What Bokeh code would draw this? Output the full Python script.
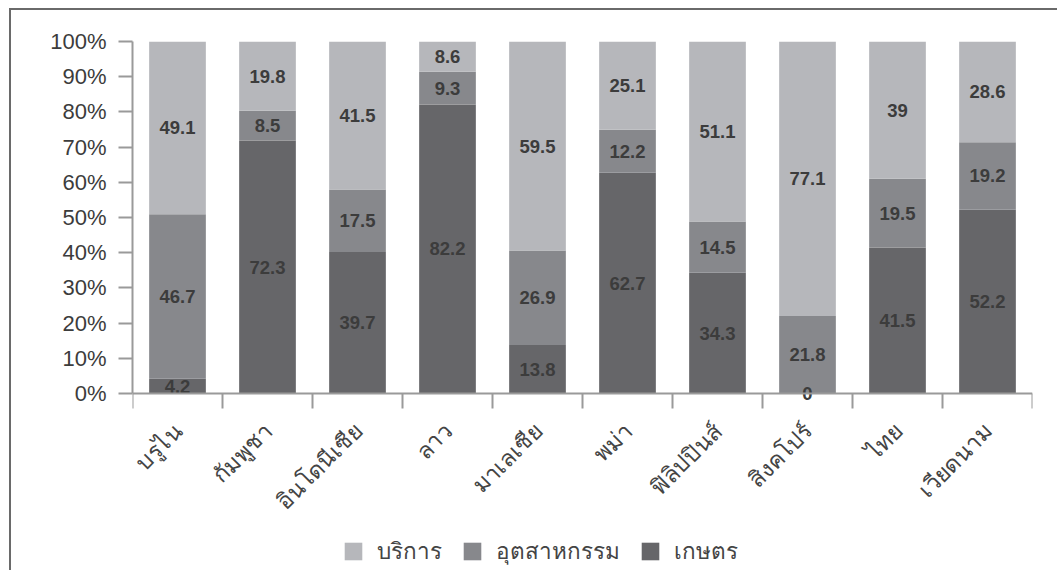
from bokeh.plotting import figure
from bokeh.models import ColumnDataSource, FixedTicker, Legend, LegendItem, Range1d, PrintfTickFormatter, LinearAxis
from bokeh.core.properties import value
from bokeh.embed import file_html
from bokeh.resources import INLINE

countries = ["บรูไน", "กัมพูชา", "อินโดนีเซีย", "ลาว", "มาเลเซีย", "พม่า", "ฟิลิปปินส์", "สิงคโปร์", "ไทย", "เวียดนาม"]
agriculture = [4.2, 72.3, 39.7, 82.2, 13.8, 62.7, 34.3, 0, 41.5, 52.2]
industry = [46.7, 8.5, 17.5, 9.3, 26.9, 12.2, 14.5, 21.8, 19.5, 19.2]
services = [49.1, 19.8, 41.5, 8.6, 59.5, 25.1, 51.1, 77.1, 39, 28.6]
series_names = ["บริการ", "อุตสาหกรรม", "เกษตร"]
y_ticks = [0, 10, 20, 30, 40, 50, 60, 70, 80, 90, 100]

C_LIGHT = "#b6b7bb"
C_MID = "#87888c"
C_DARK = "#666669"

n = len(countries)
xs = [i + 0.5 for i in range(n)]
tot = [a + b + c for a, b, c in zip(agriculture, industry, services)]
pa = [a / t * 100 for a, t in zip(agriculture, tot)]
pi_ = [b / t * 100 for b, t in zip(industry, tot)]
ps = [c / t * 100 for c, t in zip(services, tot)]

src = ColumnDataSource(dict(x=xs, agri=pa, ind=pi_, serv=ps))

# layout (screen pixels)
W, H = 1048, 562
BL, BT, BR = 121, 31, 27
PLOT_H = 352            # pixel height of the 0..100 band
frame_h = H - BT
y_lo = 100 - 100 * frame_h / PLOT_H

p = figure(width=W, height=H, output_backend="svg", toolbar_location=None,
           x_range=Range1d(0, n), y_range=Range1d(y_lo, 100),
           x_axis_type=None, y_axis_type=None,
           min_border_left=BL, min_border_top=BT, min_border_right=BR, min_border_bottom=0)
p.margin = (8, 0, 0, 9)
p.styles = {"border-left": "2px solid #6a6a6a", "border-top": "2px solid #6a6a6a"}
p.outline_line_color = None
p.background_fill_color = "white"

rs = p.vbar_stack(["agri", "ind", "serv"], x="x", width=0.63, source=src,
                  color=[C_DARK, C_MID, C_LIGHT], line_color=None)

# labels at segment centers
lx, ly, lt = [], [], []
for i in range(n):
    segs = [(pa[i], agriculture[i]), (pi_[i], industry[i]), (ps[i], services[i])]
    base = 0
    for h, v in segs:
        lx.append(xs[i])
        ly.append(base + h / 2)
        lt.append(("%g" % v))
        base += h
p.text(x=lx, y=ly, text=lt, text_align="center", text_baseline="middle",
       text_font=value("Liberation Sans"), text_font_style="bold",
       text_font_size="18.5px", text_color="#3c3c3c")

# y axis
yax = LinearAxis(ticker=FixedTicker(ticks=y_ticks), formatter=PrintfTickFormatter(format="%d%%"),
                 bounds=(0, 100))
yax.major_label_text_font = "Liberation Sans"
yax.major_label_text_font_size = "22px"
yax.major_label_text_color = "#3c3c3c"
yax.major_tick_out = 14
yax.major_tick_in = 0
yax.minor_tick_out = 0
yax.minor_tick_in = 0
yax.major_label_standoff = 12
yax.axis_line_color = "#9a9a9a"
yax.axis_line_width = 2
yax.major_tick_line_color = "#9a9a9a"
yax.major_tick_line_width = 2
p.add_layout(yax, "left")

# x axis, pinned at y = 0
xax = LinearAxis(ticker=FixedTicker(ticks=xs, minor_ticks=list(range(n + 1))),
                 fixed_location=0, bounds=(0, n))
xax.major_label_overrides = {x: c for x, c in zip(xs, countries)}
xax.major_label_orientation = 0.785398
xax.major_tick_out = 0
xax.major_tick_in = 0
xax.minor_tick_out = 15
xax.minor_tick_in = 0
xax.minor_tick_line_color = "#9a9a9a"
xax.minor_tick_line_width = 2
xax.axis_line_color = "#9a9a9a"
xax.axis_line_width = 2
xax.major_label_text_font = "Noto Sans"
xax.major_label_text_font_size = "23px"
xax.major_label_text_color = "#444444"
xax.major_label_standoff = 18
p.add_layout(xax, "below")

p.ygrid.ticker = FixedTicker(ticks=y_ticks)
p.ygrid.grid_line_color = "#9a9a9a"
p.ygrid.grid_line_width = 2

legend = Legend(items=[LegendItem(label=series_names[0], renderers=[rs[2]]),
                       LegendItem(label=series_names[1], renderers=[rs[1]]),
                       LegendItem(label=series_names[2], renderers=[rs[0]])],
                orientation="horizontal", location=(210, 3),
                border_line_color=None, background_fill_alpha=0,
                glyph_width=22, glyph_height=22, label_standoff=13, spacing=19,
                label_text_font="Noto Sans", label_text_font_size="22.5px",
                label_text_color="#444444", padding=0, margin=0)
p.add_layout(legend, "center")

open("out.html", "w").write(file_html(p, INLINE))
